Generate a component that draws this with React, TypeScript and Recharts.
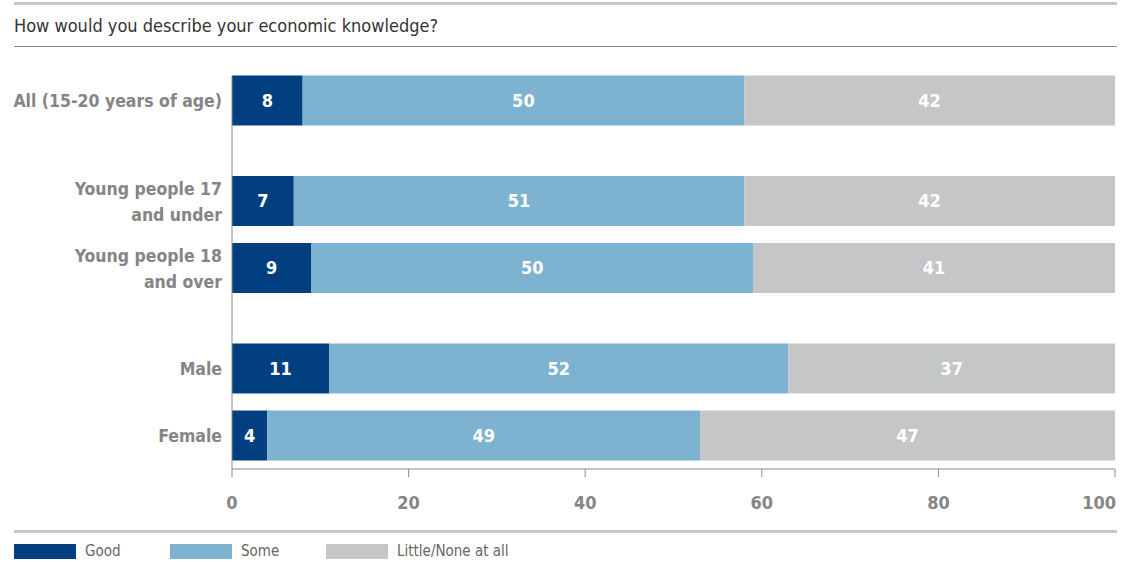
import React from "react";
import { BarChart, Bar, XAxis, YAxis, LabelList } from "recharts";

const categories = [
  "All (15-20 years of age)",
  "Young people 17\nand under",
  "Young people 18\nand over",
  "Male",
  "Female",
];
// row slot on the category axis; half-row gaps separate the groups
const rowSlots = [0, 1.5, 2.5, 4, 5];
const good = [8, 7, 9, 11, 4];
const some = [50, 51, 50, 52, 49];
const little = [42, 42, 41, 37, 47];
const xTicks = [0, 20, 40, 60, 80, 100];

const series = [
  { key: "good", name: "Good", color: "#023f80" },
  { key: "some", name: "Some", color: "#7db2d0" },
  { key: "little", name: "Little/None at all", color: "#c5c6c8" },
];

const data = categories.map((name, i) => ({
  name,
  slot: rowSlots[i],
  good: good[i],
  some: some[i],
  little: little[i],
}));

const FONT = "'DejaVu Sans Condensed', 'Liberation Sans Narrow', 'Open Sans', sans-serif";
const GREY_TEXT = "#858585";

const CategoryTick = ({ x, y, payload }: any) => {
  const idx = rowSlots.indexOf(payload.value);
  if (idx < 0) return null;
  const lines = categories[idx].split("\n");
  const lineH = 26;
  const start = y - ((lines.length - 1) * lineH) / 2;
  return (
    <text x={x} textAnchor="end" fill={GREY_TEXT} fontSize={17.5} fontWeight="bold" fontFamily={FONT}>
      {lines.map((l, i) => (
        <tspan key={i} x={x} y={start + i * lineH} dy="0.35em">
          {l}
        </tspan>
      ))}
    </text>
  );
};

// tick mark drawn upward into the plot, label below the axis
const ValueTick = ({ x, y, payload }: any) => {
  const last = payload.value === xTicks[xTicks.length - 1];
  return (
    <g>
      <line x1={x} x2={x} y1={y - 34} y2={y - 26} stroke="#8c8c8c" strokeWidth={1} />
      <text
        x={last ? x + 1 : x}
        y={y}
        dy="0.35em"
        textAnchor={last ? "end" : "middle"}
        fill={GREY_TEXT}
        fontSize={18}
        fontWeight="bold"
        fontFamily={FONT}
      >
        {payload.value}
      </text>
    </g>
  );
};

export default function App() {
  return (
    <div style={{ position: "relative", width: 1121, height: 562, fontFamily: FONT, background: "#fff", overflow: "hidden" }}>
      <style>{`body{margin:0}`}</style>
      <div style={{ position: "absolute", left: 14, right: 4, top: 2, height: 3, background: "#c8c8c8" }} />
      <div style={{ position: "absolute", left: 14, top: 15, fontSize: 18, color: "#333", whiteSpace: "nowrap", lineHeight: "22px" }}>
        How would you describe your economic knowledge?
      </div>
      <div style={{ position: "absolute", left: 14, right: 4, top: 46, height: 1, background: "#8a8a8a" }} />

      <BarChart
        width={1121}
        height={562}
        data={data}
        layout="vertical"
        margin={{ top: 76, right: 6, bottom: 53, left: 0 }}
      >
        <XAxis
          type="number"
          domain={[0, 100]}
          ticks={xTicks}
          axisLine={{ stroke: "#8c8c8c" }}
          tickLine={false}
          tickSize={0}
          tickMargin={34}
          height={40}
          tick={<ValueTick />}
          interval={0}
        />
        <YAxis
          type="number"
          dataKey="slot"
          domain={[-0.373, 5.493]}
          ticks={rowSlots}
          width={232}
          axisLine={{ stroke: "#8c8c8c" }}
          tickLine={false}
          tickSize={0}
          tickMargin={10}
          tick={<CategoryTick />}
          interval={0}
        />
        {series.map((s) => (
          <Bar key={s.key} dataKey={s.key} stackId="a" fill={s.color} barSize={50} isAnimationActive={false}>
            <LabelList
              dataKey={s.key}
              position="center"
              fill="#fff"
              fontSize={18}
              fontWeight="bold"
              fontFamily={FONT}
            />
          </Bar>
        ))}
      </BarChart>

      <div style={{ position: "absolute", left: 14, right: 4, top: 530, height: 3, background: "#c8c8c8" }} />
      <div style={{ position: "absolute", left: 14, top: 544, display: "flex" }}>
        {series.map((s) => (
          <div key={s.key} style={{ display: "flex", alignItems: "center", width: 156, whiteSpace: "nowrap" }}>
            <div style={{ width: 62, height: 15, background: s.color, flexShrink: 0 }} />
            <span style={{ marginLeft: 9, fontSize: 15, color: "#666", lineHeight: "15px" }}>{s.name}</span>
          </div>
        ))}
      </div>
    </div>
  );
}
